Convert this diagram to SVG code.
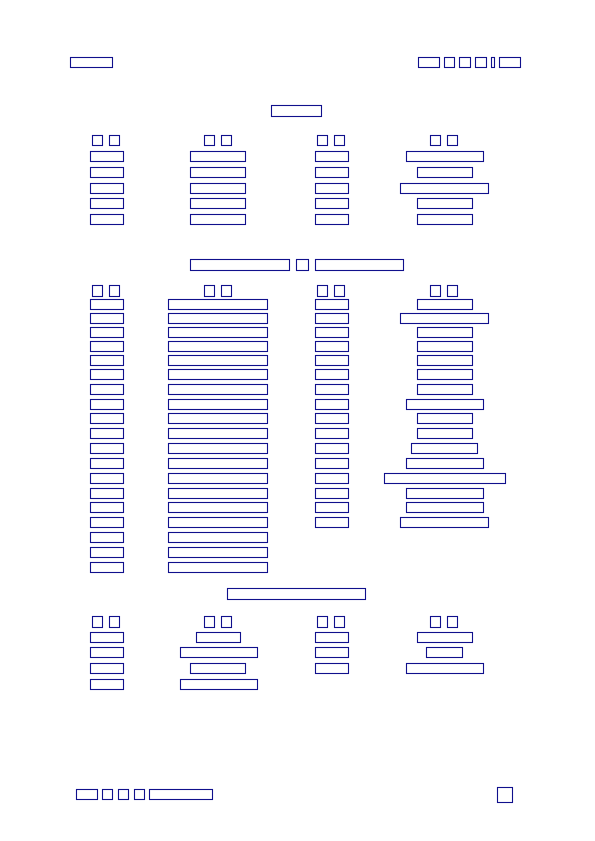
<svg xmlns="http://www.w3.org/2000/svg" width="595" height="841" viewBox="0 0 595 841">
<style>
rect.b{fill:none;stroke:#10108c;stroke-width:1.1}
</style>
<rect x="0" y="0" width="595" height="841" fill="#ffffff"/>
<g id="header">
<rect class="b" x="70.5" y="57.5" width="42" height="10"/>
<rect class="b" x="418.5" y="57.5" width="21" height="10"/>
<rect class="b" x="444.5" y="57.5" width="10" height="10"/>
<rect class="b" x="459.5" y="57.5" width="11" height="10"/>
<rect class="b" x="475.5" y="57.5" width="11" height="10"/>
<rect class="b" x="491.5" y="57.5" width="3" height="10"/>
<rect class="b" x="499.5" y="57.5" width="21" height="10"/>
</g>
<g id="section1">
<rect class="b" x="271.5" y="105.5" width="50" height="11"/>
<g id="s1-heads">
<rect class="b" x="92.5" y="135.5" width="10" height="10"/>
<rect class="b" x="109.5" y="135.5" width="10" height="10"/>
<rect class="b" x="204.5" y="135.5" width="10" height="10"/>
<rect class="b" x="221.5" y="135.5" width="10" height="10"/>
<rect class="b" x="317.5" y="135.5" width="10" height="10"/>
<rect class="b" x="334.5" y="135.5" width="10" height="10"/>
<rect class="b" x="430.5" y="135.5" width="10" height="10"/>
<rect class="b" x="447.5" y="135.5" width="10" height="10"/>
</g>
<g id="s1-col1">
<rect class="b" x="90.5" y="151.5" width="33" height="10"/>
<rect class="b" x="90.5" y="167.5" width="33" height="10"/>
<rect class="b" x="90.5" y="183.5" width="33" height="10"/>
<rect class="b" x="90.5" y="198.5" width="33" height="10"/>
<rect class="b" x="90.5" y="214.5" width="33" height="10"/>
</g>
<g id="s1-col2">
<rect class="b" x="190.5" y="151.5" width="55" height="10"/>
<rect class="b" x="190.5" y="167.5" width="55" height="10"/>
<rect class="b" x="190.5" y="183.5" width="55" height="10"/>
<rect class="b" x="190.5" y="198.5" width="55" height="10"/>
<rect class="b" x="190.5" y="214.5" width="55" height="10"/>
</g>
<g id="s1-col3">
<rect class="b" x="315.5" y="151.5" width="33" height="10"/>
<rect class="b" x="315.5" y="167.5" width="33" height="10"/>
<rect class="b" x="315.5" y="183.5" width="33" height="10"/>
<rect class="b" x="315.5" y="198.5" width="33" height="10"/>
<rect class="b" x="315.5" y="214.5" width="33" height="10"/>
</g>
<g id="s1-col4">
<rect class="b" x="406.5" y="151.5" width="77" height="10"/>
<rect class="b" x="417.5" y="167.5" width="55" height="10"/>
<rect class="b" x="400.5" y="183.5" width="88" height="10"/>
<rect class="b" x="417.5" y="198.5" width="55" height="10"/>
<rect class="b" x="417.5" y="214.5" width="55" height="10"/>
</g>
</g>
<g id="section2">
<rect class="b" x="190.5" y="259.5" width="99" height="11"/>
<rect class="b" x="296.5" y="259.5" width="12" height="11"/>
<rect class="b" x="315.5" y="259.5" width="88" height="11"/>
<g id="s2-heads">
<rect class="b" x="92.5" y="285.5" width="10" height="11"/>
<rect class="b" x="109.5" y="285.5" width="10" height="11"/>
<rect class="b" x="204.5" y="285.5" width="10" height="11"/>
<rect class="b" x="221.5" y="285.5" width="10" height="11"/>
<rect class="b" x="317.5" y="285.5" width="10" height="11"/>
<rect class="b" x="334.5" y="285.5" width="10" height="11"/>
<rect class="b" x="430.5" y="285.5" width="10" height="11"/>
<rect class="b" x="447.5" y="285.5" width="10" height="11"/>
</g>
<g id="s2-col1">
<rect class="b" x="90.5" y="299.5" width="33" height="10"/>
<rect class="b" x="90.5" y="313.5" width="33" height="10"/>
<rect class="b" x="90.5" y="327.5" width="33" height="10"/>
<rect class="b" x="90.5" y="341.5" width="33" height="10"/>
<rect class="b" x="90.5" y="355.5" width="33" height="10"/>
<rect class="b" x="90.5" y="369.5" width="33" height="10"/>
<rect class="b" x="90.5" y="384.5" width="33" height="10"/>
<rect class="b" x="90.5" y="399.5" width="33" height="10"/>
<rect class="b" x="90.5" y="413.5" width="33" height="10"/>
<rect class="b" x="90.5" y="428.5" width="33" height="10"/>
<rect class="b" x="90.5" y="443.5" width="33" height="10"/>
<rect class="b" x="90.5" y="458.5" width="33" height="10"/>
<rect class="b" x="90.5" y="473.5" width="33" height="10"/>
<rect class="b" x="90.5" y="488.5" width="33" height="10"/>
<rect class="b" x="90.5" y="502.5" width="33" height="10"/>
<rect class="b" x="90.5" y="517.5" width="33" height="10"/>
<rect class="b" x="90.5" y="532.5" width="33" height="10"/>
<rect class="b" x="90.5" y="547.5" width="33" height="10"/>
<rect class="b" x="90.5" y="562.5" width="33" height="10"/>
</g>
<g id="s2-col2">
<rect class="b" x="168.5" y="299.5" width="99" height="10"/>
<rect class="b" x="168.5" y="313.5" width="99" height="10"/>
<rect class="b" x="168.5" y="327.5" width="99" height="10"/>
<rect class="b" x="168.5" y="341.5" width="99" height="10"/>
<rect class="b" x="168.5" y="355.5" width="99" height="10"/>
<rect class="b" x="168.5" y="369.5" width="99" height="10"/>
<rect class="b" x="168.5" y="384.5" width="99" height="10"/>
<rect class="b" x="168.5" y="399.5" width="99" height="10"/>
<rect class="b" x="168.5" y="413.5" width="99" height="10"/>
<rect class="b" x="168.5" y="428.5" width="99" height="10"/>
<rect class="b" x="168.5" y="443.5" width="99" height="10"/>
<rect class="b" x="168.5" y="458.5" width="99" height="10"/>
<rect class="b" x="168.5" y="473.5" width="99" height="10"/>
<rect class="b" x="168.5" y="488.5" width="99" height="10"/>
<rect class="b" x="168.5" y="502.5" width="99" height="10"/>
<rect class="b" x="168.5" y="517.5" width="99" height="10"/>
<rect class="b" x="168.5" y="532.5" width="99" height="10"/>
<rect class="b" x="168.5" y="547.5" width="99" height="10"/>
<rect class="b" x="168.5" y="562.5" width="99" height="10"/>
</g>
<g id="s2-col3">
<rect class="b" x="315.5" y="299.5" width="33" height="10"/>
<rect class="b" x="315.5" y="313.5" width="33" height="10"/>
<rect class="b" x="315.5" y="327.5" width="33" height="10"/>
<rect class="b" x="315.5" y="341.5" width="33" height="10"/>
<rect class="b" x="315.5" y="355.5" width="33" height="10"/>
<rect class="b" x="315.5" y="369.5" width="33" height="10"/>
<rect class="b" x="315.5" y="384.5" width="33" height="10"/>
<rect class="b" x="315.5" y="399.5" width="33" height="10"/>
<rect class="b" x="315.5" y="413.5" width="33" height="10"/>
<rect class="b" x="315.5" y="428.5" width="33" height="10"/>
<rect class="b" x="315.5" y="443.5" width="33" height="10"/>
<rect class="b" x="315.5" y="458.5" width="33" height="10"/>
<rect class="b" x="315.5" y="473.5" width="33" height="10"/>
<rect class="b" x="315.5" y="488.5" width="33" height="10"/>
<rect class="b" x="315.5" y="502.5" width="33" height="10"/>
<rect class="b" x="315.5" y="517.5" width="33" height="10"/>
</g>
<g id="s2-col4">
<rect class="b" x="417.5" y="299.5" width="55" height="10"/>
<rect class="b" x="400.5" y="313.5" width="88" height="10"/>
<rect class="b" x="417.5" y="327.5" width="55" height="10"/>
<rect class="b" x="417.5" y="341.5" width="55" height="10"/>
<rect class="b" x="417.5" y="355.5" width="55" height="10"/>
<rect class="b" x="417.5" y="369.5" width="55" height="10"/>
<rect class="b" x="417.5" y="384.5" width="55" height="10"/>
<rect class="b" x="406.5" y="399.5" width="77" height="10"/>
<rect class="b" x="417.5" y="413.5" width="55" height="10"/>
<rect class="b" x="417.5" y="428.5" width="55" height="10"/>
<rect class="b" x="411.5" y="443.5" width="66" height="10"/>
<rect class="b" x="406.5" y="458.5" width="77" height="10"/>
<rect class="b" x="384.5" y="473.5" width="121" height="10"/>
<rect class="b" x="406.5" y="488.5" width="77" height="10"/>
<rect class="b" x="406.5" y="502.5" width="77" height="10"/>
<rect class="b" x="400.5" y="517.5" width="88" height="10"/>
</g>
</g>
<g id="section3">
<rect class="b" x="227.5" y="588.5" width="138" height="11"/>
<g id="s3-heads">
<rect class="b" x="92.5" y="616.5" width="10" height="11"/>
<rect class="b" x="109.5" y="616.5" width="10" height="11"/>
<rect class="b" x="204.5" y="616.5" width="10" height="11"/>
<rect class="b" x="221.5" y="616.5" width="10" height="11"/>
<rect class="b" x="317.5" y="616.5" width="10" height="11"/>
<rect class="b" x="334.5" y="616.5" width="10" height="11"/>
<rect class="b" x="430.5" y="616.5" width="10" height="11"/>
<rect class="b" x="447.5" y="616.5" width="10" height="11"/>
</g>
<g id="s3-col1">
<rect class="b" x="90.5" y="632.5" width="33" height="10"/>
<rect class="b" x="90.5" y="647.5" width="33" height="10"/>
<rect class="b" x="90.5" y="663.5" width="33" height="10"/>
<rect class="b" x="90.5" y="679.5" width="33" height="10"/>
</g>
<g id="s3-col2">
<rect class="b" x="196.5" y="632.5" width="44" height="10"/>
<rect class="b" x="180.5" y="647.5" width="77" height="10"/>
<rect class="b" x="190.5" y="663.5" width="55" height="10"/>
<rect class="b" x="180.5" y="679.5" width="77" height="10"/>
</g>
<g id="s3-col3">
<rect class="b" x="315.5" y="632.5" width="33" height="10"/>
<rect class="b" x="315.5" y="647.5" width="33" height="10"/>
<rect class="b" x="315.5" y="663.5" width="33" height="10"/>
</g>
<g id="s3-col4">
<rect class="b" x="417.5" y="632.5" width="55" height="10"/>
<rect class="b" x="426.5" y="647.5" width="36" height="10"/>
<rect class="b" x="406.5" y="663.5" width="77" height="10"/>
</g>
</g>
<g id="footer">
<rect class="b" x="76.5" y="789.5" width="21" height="10"/>
<rect class="b" x="102.5" y="789.5" width="10" height="10"/>
<rect class="b" x="118.5" y="789.5" width="10" height="10"/>
<rect class="b" x="134.5" y="789.5" width="10" height="10"/>
<rect class="b" x="149.5" y="789.5" width="63" height="10"/>
<rect class="b" x="497.5" y="787.5" width="15" height="15"/>
</g>
</svg>
